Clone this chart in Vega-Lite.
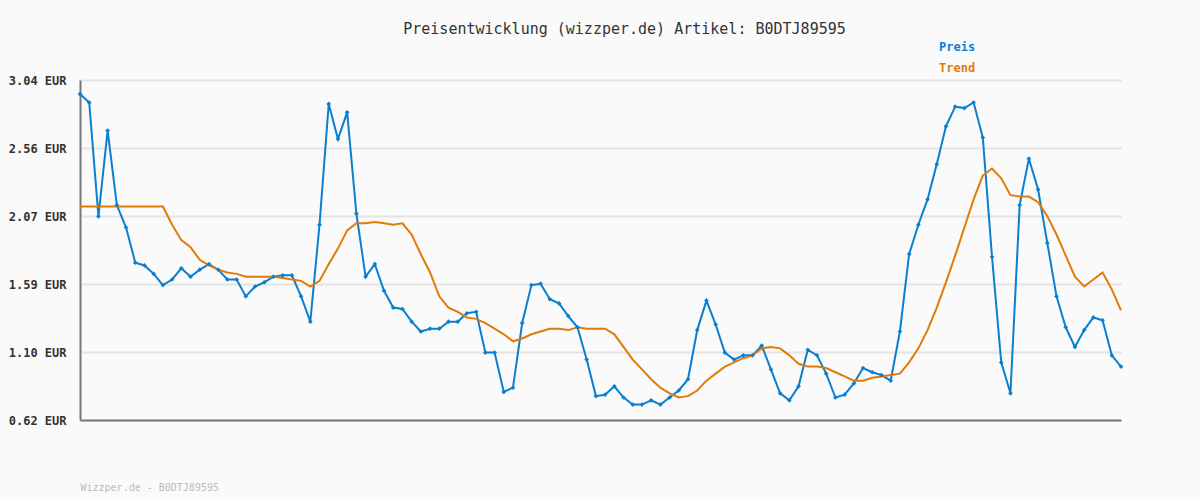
{
  "$schema": "https://vega.github.io/schema/vega-lite/v6.json",
  "autosize": "none",
  "width": 1041,
  "height": 340,
  "padding": {"left": 80, "top": 80, "right": 79, "bottom": 80},
  "background": "#fafafa",
  "title": {
    "text": "Preisentwicklung (wizzper.de) Artikel: B0DTJ89595",
    "font": "DejaVu Sans Mono",
    "fontSize": 15,
    "fontWeight": "normal",
    "color": "#333333",
    "anchor": "middle",
    "frame": "group",
    "dx": 24,
    "offset": 4
  },
  "data": {
    "values": [
      {"i":0,"Preis":2.94,"Trend":2.14},{"i":1,"Preis":2.88,"Trend":2.14},{"i":2,"Preis":2.07,"Trend":2.14},{"i":3,"Preis":2.68,"Trend":2.14},
      {"i":4,"Preis":2.15,"Trend":2.14},{"i":5,"Preis":1.99,"Trend":2.14},{"i":6,"Preis":1.74,"Trend":2.14},{"i":7,"Preis":1.72,"Trend":2.14},
      {"i":8,"Preis":1.66,"Trend":2.14},{"i":9,"Preis":1.58,"Trend":2.14},{"i":10,"Preis":1.62,"Trend":2.01},{"i":11,"Preis":1.70,"Trend":1.90},
      {"i":12,"Preis":1.64,"Trend":1.85},{"i":13,"Preis":1.69,"Trend":1.76},{"i":14,"Preis":1.73,"Trend":1.72},{"i":15,"Preis":1.69,"Trend":1.69},
      {"i":16,"Preis":1.62,"Trend":1.67},{"i":17,"Preis":1.62,"Trend":1.66},{"i":18,"Preis":1.50,"Trend":1.64},{"i":19,"Preis":1.57,"Trend":1.64},
      {"i":20,"Preis":1.60,"Trend":1.64},{"i":21,"Preis":1.64,"Trend":1.64},{"i":22,"Preis":1.65,"Trend":1.63},{"i":23,"Preis":1.65,"Trend":1.62},
      {"i":24,"Preis":1.50,"Trend":1.61},{"i":25,"Preis":1.32,"Trend":1.57},{"i":26,"Preis":2.01,"Trend":1.61},{"i":27,"Preis":2.87,"Trend":1.73},
      {"i":28,"Preis":2.62,"Trend":1.84},{"i":29,"Preis":2.81,"Trend":1.97},{"i":30,"Preis":2.09,"Trend":2.02},{"i":31,"Preis":1.64,"Trend":2.02},
      {"i":32,"Preis":1.73,"Trend":2.03},{"i":33,"Preis":1.54,"Trend":2.02},{"i":34,"Preis":1.42,"Trend":2.01},{"i":35,"Preis":1.41,"Trend":2.02},
      {"i":36,"Preis":1.32,"Trend":1.94},{"i":37,"Preis":1.25,"Trend":1.80},{"i":38,"Preis":1.27,"Trend":1.67},{"i":39,"Preis":1.27,"Trend":1.50},
      {"i":40,"Preis":1.32,"Trend":1.42},{"i":41,"Preis":1.32,"Trend":1.39},{"i":42,"Preis":1.38,"Trend":1.35},{"i":43,"Preis":1.39,"Trend":1.34},
      {"i":44,"Preis":1.10,"Trend":1.31},{"i":45,"Preis":1.10,"Trend":1.27},{"i":46,"Preis":0.82,"Trend":1.23},{"i":47,"Preis":0.85,"Trend":1.18},
      {"i":48,"Preis":1.31,"Trend":1.20},{"i":49,"Preis":1.58,"Trend":1.23},{"i":50,"Preis":1.59,"Trend":1.25},{"i":51,"Preis":1.48,"Trend":1.27},
      {"i":52,"Preis":1.45,"Trend":1.27},{"i":53,"Preis":1.36,"Trend":1.26},{"i":54,"Preis":1.28,"Trend":1.28},{"i":55,"Preis":1.05,"Trend":1.27},
      {"i":56,"Preis":0.79,"Trend":1.27},{"i":57,"Preis":0.80,"Trend":1.27},{"i":58,"Preis":0.86,"Trend":1.23},{"i":59,"Preis":0.78,"Trend":1.14},
      {"i":60,"Preis":0.73,"Trend":1.05},{"i":61,"Preis":0.73,"Trend":0.98},{"i":62,"Preis":0.76,"Trend":0.91},{"i":63,"Preis":0.73,"Trend":0.85},
      {"i":64,"Preis":0.78,"Trend":0.81},{"i":65,"Preis":0.83,"Trend":0.78},{"i":66,"Preis":0.91,"Trend":0.79},{"i":67,"Preis":1.26,"Trend":0.83},
      {"i":68,"Preis":1.47,"Trend":0.90},{"i":69,"Preis":1.30,"Trend":0.95},{"i":70,"Preis":1.10,"Trend":1.00},{"i":71,"Preis":1.05,"Trend":1.03},
      {"i":72,"Preis":1.08,"Trend":1.06},{"i":73,"Preis":1.08,"Trend":1.08},{"i":74,"Preis":1.15,"Trend":1.13},{"i":75,"Preis":0.98,"Trend":1.14},
      {"i":76,"Preis":0.81,"Trend":1.13},{"i":77,"Preis":0.76,"Trend":1.08},{"i":78,"Preis":0.86,"Trend":1.02},{"i":79,"Preis":1.12,"Trend":1.00},
      {"i":80,"Preis":1.08,"Trend":1.00},{"i":81,"Preis":0.95,"Trend":0.99},{"i":82,"Preis":0.78,"Trend":0.96},{"i":83,"Preis":0.80,"Trend":0.93},
      {"i":84,"Preis":0.88,"Trend":0.90},{"i":85,"Preis":0.99,"Trend":0.90},{"i":86,"Preis":0.96,"Trend":0.92},{"i":87,"Preis":0.94,"Trend":0.93},
      {"i":88,"Preis":0.90,"Trend":0.94},{"i":89,"Preis":1.25,"Trend":0.95},{"i":90,"Preis":1.80,"Trend":1.03},{"i":91,"Preis":2.01,"Trend":1.13},
      {"i":92,"Preis":2.19,"Trend":1.26},{"i":93,"Preis":2.44,"Trend":1.42},{"i":94,"Preis":2.71,"Trend":1.60},{"i":95,"Preis":2.85,"Trend":1.79},
      {"i":96,"Preis":2.84,"Trend":1.99},{"i":97,"Preis":2.88,"Trend":2.19},{"i":98,"Preis":2.63,"Trend":2.36},{"i":99,"Preis":1.78,"Trend":2.41},
      {"i":100,"Preis":1.03,"Trend":2.34},{"i":101,"Preis":0.81,"Trend":2.22},{"i":102,"Preis":2.15,"Trend":2.21},{"i":103,"Preis":2.48,"Trend":2.21},
      {"i":104,"Preis":2.26,"Trend":2.17},{"i":105,"Preis":1.88,"Trend":2.07},{"i":106,"Preis":1.50,"Trend":1.94},{"i":107,"Preis":1.28,"Trend":1.79},
      {"i":108,"Preis":1.14,"Trend":1.64},{"i":109,"Preis":1.26,"Trend":1.57},{"i":110,"Preis":1.35,"Trend":1.62},{"i":111,"Preis":1.33,"Trend":1.67},
      {"i":112,"Preis":1.08,"Trend":1.55},{"i":113,"Preis":1.00,"Trend":1.40}
    ]
  },
  "transform": [{"fold": ["Preis", "Trend"], "as": ["serie", "wert"]}],
  "encoding": {
    "x": {
      "field": "i",
      "type": "quantitative",
      "scale": {"domain": [0, 113], "nice": false, "zero": false},
      "axis": {
        "title": "Wizzper.de - B0DTJ89595",
        "titleFont": "DejaVu Sans Mono",
        "titleFontSize": 10,
        "titleFontWeight": "normal",
        "titleColor": "#bbbbbb",
        "titleAnchor": "start",
        "titleAlign": "left",
        "titleBaseline": "middle",
        "titleX": 0,
        "titleY": 67,
        "labels": false,
        "ticks": false,
        "grid": false,
        "domainColor": "#777777",
        "domainWidth": 2
      }
    },
    "y": {
      "field": "wert",
      "type": "quantitative",
      "scale": {"domain": [0.62, 3.04], "nice": false, "zero": false},
      "axis": {
        "title": null,
        "values": [0.62, 1.104, 1.588, 2.072, 2.556, 3.04],
        "labelExpr": "format(datum.value, '.2f') + ' EUR'",
        "labelFont": "DejaVu Sans Mono",
        "labelFontSize": 12,
        "labelFontWeight": "bold",
        "labelColor": "#333333",
        "labelPadding": 14,
        "ticks": false,
        "grid": true,
        "gridColor": "#e4e4e4",
        "gridWidth": 2,
        "domainColor": "#777777",
        "domainWidth": 2
      }
    },
    "color": {
      "field": "serie",
      "type": "nominal",
      "scale": {"domain": ["Preis", "Trend"], "range": ["#0a7fd0", "#e07b0a"]},
      "legend": {
        "title": null,
        "orient": "none",
        "legendX": 843,
        "legendY": -39,
        "symbolOpacity": 0,
        "symbolSize": 1,
        "symbolStrokeWidth": 0,
        "labelFont": "DejaVu Sans Mono",
        "labelFontSize": 12,
        "labelFontWeight": "bold",
        "rowPadding": 9,
        "encode": {"labels": {"update": {"fill": {"scale": "color", "field": "value"}}}}
      }
    }
  },
  "layer": [
    {
      "mark": {"type": "line", "strokeWidth": 2},
      "encoding": {"detail": {"field": "serie"}}
    },
    {
      "transform": [{"filter": "datum.serie === 'Preis'"}],
      "mark": {"type": "point", "shape": "diamond", "filled": true, "size": 22, "opacity": 1}
    }
  ],
  "config": {"view": {"stroke": null}}
}
